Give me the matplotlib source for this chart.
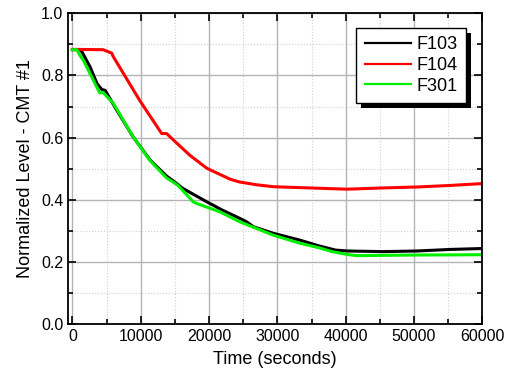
import matplotlib
matplotlib.use("Agg")
import matplotlib.pyplot as plt
from matplotlib.patches import Rectangle
from matplotlib.ticker import MultipleLocator, FormatStrFormatter

plt.rcParams['font.family'] = ['Liberation Sans', 'DejaVu Sans']

# values
t_f103 = [0, 1100, 1400, 2600, 3600, 4300, 4800, 6500, 8900, 11400, 13800, 14800,
          16200, 19700, 22000, 24500, 25500, 26500, 29400, 33300, 36000, 38500, 40200,
          45500, 50400, 55300, 60000]
f103 = [0.883, 0.883, 0.876, 0.827, 0.774, 0.755, 0.752, 0.688, 0.602, 0.527, 0.476, 0.460,
        0.436, 0.393, 0.366, 0.340, 0.329, 0.313, 0.292, 0.270, 0.252, 0.238, 0.235,
        0.233, 0.235, 0.240, 0.243]

t_f104 = [0, 4500, 5750, 6000, 9900, 13070, 13800, 14800, 17200, 19700, 23100,
          24500, 27000, 29400, 33300, 40200, 45500, 50400, 55300, 60000]
f104 = [0.884, 0.883, 0.872, 0.860, 0.718, 0.613, 0.613, 0.592, 0.543, 0.501, 0.466,
        0.457, 0.448, 0.442, 0.439, 0.434, 0.438, 0.441, 0.446, 0.452]

t_f301 = [0, 650, 1100, 1600, 3060, 4000, 4500, 6000, 8900, 11400, 13800, 14800,
          15500, 17700, 18200, 21600, 24500, 29400, 33300, 36000, 38000, 40200, 41600,
          50000, 60000]
f301 = [0.883, 0.883, 0.865, 0.849, 0.785, 0.744, 0.745, 0.710, 0.602, 0.525, 0.470,
        0.456, 0.445, 0.393, 0.388, 0.361, 0.329, 0.286, 0.260, 0.246, 0.233, 0.224, 0.220,
        0.222, 0.223]

fig = plt.figure(figsize=(5.15, 3.81), dpi=100)
ax = fig.add_axes([0.1326, 0.1496, 0.8039, 0.8154])

ax.plot(t_f103, f103, color='black', lw=2.2, label='F103')
ax.plot(t_f104, f104, color='#ff0000', lw=2.2, label='F104')
ax.plot(t_f301, f301, color='#00ee00', lw=2.2, label='F301')

ax.set_xlim(-600, 60000)
ax.set_ylim(0, 1.0)
ax.xaxis.set_major_locator(MultipleLocator(10000))
ax.xaxis.set_minor_locator(MultipleLocator(5000))
ax.yaxis.set_major_locator(MultipleLocator(0.2))
ax.yaxis.set_minor_locator(MultipleLocator(0.1))
ax.yaxis.set_major_formatter(FormatStrFormatter('%.1f'))

ax.grid(which='major', color='#b4b4b4', lw=1.0, ls='-')
ax.grid(which='minor', color='#d0d0d0', lw=0.8, ls=':')
ax.set_axisbelow(True)

ax.tick_params(which='both', direction='in', top=True, right=True, labelsize=11.5, width=1.2)
ax.tick_params(which='major', length=6)
ax.tick_params(which='minor', length=3.5)
for s in ax.spines.values():
    s.set_linewidth(1.3)

ax.set_xlabel('Time (seconds)', fontsize=13, labelpad=5)
ax.set_ylabel('Normalized Level - CMT #1', fontsize=13, labelpad=5)

leg = ax.legend(loc='upper right', bbox_to_anchor=(0.961, 0.952), fontsize=13,
                fancybox=False, framealpha=1, edgecolor='black', handlelength=2.6,
                labelspacing=0.2, borderpad=0.45, handletextpad=0.3, borderaxespad=0)
leg.get_frame().set_linewidth(1.0)
for h in leg.get_lines():
    h.set_linewidth(1.6)

# offset black shadow behind the legend box
fig.canvas.draw()
bb = leg.get_window_extent()
shadow = Rectangle((bb.x0 + 5, bb.y0 - 5), bb.width, bb.height, transform=None,
                   facecolor='black', edgecolor='none', zorder=4.5, clip_on=False)
ax.add_artist(shadow)

fig.savefig('out.png', dpi=100)
